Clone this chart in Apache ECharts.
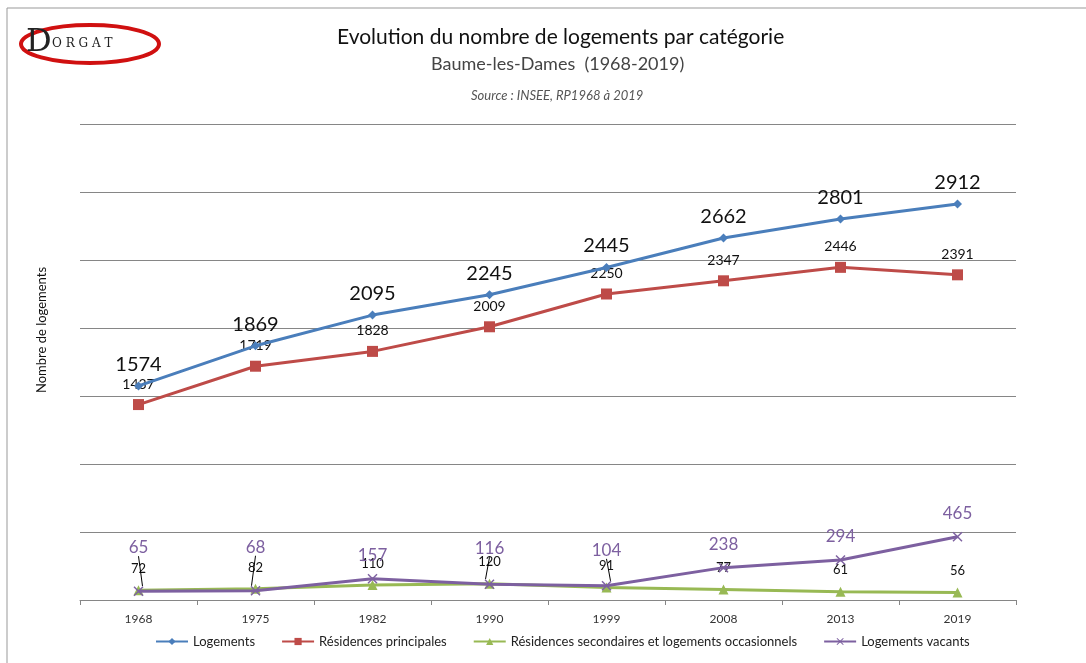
<!DOCTYPE html>
<html>
<head>
<meta charset="utf-8">
<script src="https://cdn.jsdelivr.net/npm/echarts@6/dist/echarts.min.js"></script>
<style>
  html, body { margin: 0; padding: 0; background: #fff; }
  #main { width: 1086px; height: 663px; }
</style>
</head>
<body>
<div id="main"></div>
<script>
// données INSEE, RP1968 à 2019
var annees = ["1968", "1975", "1982", "1990", "1999", "2008", "2013", "2019"];
var logements = [1574, 1869, 2095, 2245, 2445, 2662, 2801, 2912];
var residencesPrincipales = [1437, 1719, 1828, 2009, 2250, 2347, 2446, 2391];
var residencesSecondaires = [72, 82, 110, 120, 91, 77, 61, 56];
var logementsVacants = [65, 68, 157, 116, 104, 238, 294, 465];
// décalage vertical des étiquettes "vacants" (comme dans l'original)
var decalageVacants = [-20, -20, 0, -12, -12, 0, 0, 0];

var myChart = echarts.init(document.getElementById("main"));
var police = "Lato, 'Open Sans', sans-serif";
var croix = "path://M0,1L1,0L5,4L9,0L10,1L6,5L10,9L9,10L5,6L1,10L0,9L4,5Z";

// points "vacants" : trait de rappel seulement pour les étiquettes déplacées
var donneesVacants = logementsVacants.map(function (v, i) {
  return { value: v, labelLine: { show: decalageVacants[i] !== 0 } };
});

var option = {
  backgroundColor: "#fff",
  textStyle: { fontFamily: police },
  title: [
    { text: "Evolution du nombre de logements par catégorie", left: 332, top: 22,
      textStyle: { fontSize: 21, fontWeight: "normal", color: "#111", fontFamily: police } },
    { text: "Baume-les-Dames  (1968-2019)", left: 426, top: 50,
      textStyle: { fontSize: 18, fontWeight: "normal", color: "#444", fontFamily: police } },
    { text: "Source : INSEE, RP1968 à 2019", left: 466, top: 84,
      textStyle: { fontSize: 13, fontWeight: "normal", fontStyle: "italic", color: "#555", fontFamily: police } }
  ],
  graphic: [
    { type: "rect", shape: { x: 7, y: 8, width: 1100, height: 700 }, silent: true,
      style: { fill: "none", stroke: "#999", lineWidth: 1 } },
    { type: "ellipse", shape: { cx: 90, cy: 44, rx: 69, ry: 19 }, silent: true,
      style: { fill: "none", stroke: "#d01010", lineWidth: 4 } },
    { type: "text", left: 26, top: 27, silent: true,
      style: { text: "D", font: "32px 'DejaVu Serif', serif", fill: "#222" } },
    { type: "text", left: 52, top: 38, silent: true,
      style: { text: "O R G A T", font: "12px 'DejaVu Serif', serif", fill: "#222" } },
    { type: "text", x: 42, y: 330, rotation: Math.PI / 2, silent: true,
      style: { text: "Nombre de logements", font: "13px Lato, sans-serif", fill: "#111",
               align: "center", verticalAlign: "middle" } }
  ],
  legend: {
    bottom: 10,
    left: 150,
    itemGap: 26,
    itemWidth: 32,
    itemHeight: 9,
    textStyle: { fontSize: 13, color: "#222", fontFamily: police },
    data: ["Logements", "Résidences principales", "Résidences secondaires et logements occasionnels", "Logements vacants"]
  },
  grid: { left: 80, right: 70, top: 124, bottom: 63 },
  xAxis: {
    type: "category",
    data: annees,
    boundaryGap: true,
    axisLine: { lineStyle: { color: "#868686", width: 1 } },
    axisTick: { show: true, alignWithLabel: false, length: 5, inside: false, lineStyle: { color: "#868686" } },
    axisLabel: { fontSize: 12, color: "#333", margin: 13 }
  },
  yAxis: {
    type: "value",
    min: 0,
    max: 3500,
    interval: 500,
    axisLine: { show: false },
    axisTick: { show: false },
    axisLabel: { show: false },
    splitLine: { lineStyle: { color: "#868686", width: 1 } }
  },
  series: [
    {
      name: "Logements", type: "line", data: logements,
      symbol: "diamond", symbolSize: 9,
      itemStyle: { color: "#4a7ebb" }, lineStyle: { width: 3, color: "#4a7ebb" },
      label: { show: true, position: "top", distance: 7, fontSize: 20, color: "#111" },
      z: 4
    },
    {
      name: "Résidences principales", type: "line", data: residencesPrincipales,
      symbol: "rect", symbolSize: 11,
      itemStyle: { color: "#be4b48" }, lineStyle: { width: 3, color: "#be4b48" },
      label: { show: true, position: "top", distance: 8, fontSize: 14, color: "#111" },
      z: 3
    },
    {
      name: "Résidences secondaires et logements occasionnels", type: "line", data: residencesSecondaires,
      symbol: "triangle", symbolSize: 10,
      itemStyle: { color: "#98b954" }, lineStyle: { width: 3, color: "#98b954" },
      label: { show: true, position: "top", distance: 10, fontSize: 13, color: "#111" },
      z: 2
    },
    {
      name: "Logements vacants", type: "line", data: donneesVacants,
      symbol: croix, symbolSize: 10,
      itemStyle: { color: "#7d60a0" }, lineStyle: { width: 3, color: "#7d60a0" },
      label: { show: true, position: "top", distance: 10, fontSize: 17, color: "#7d60a0" },
      labelLine: { show: true, lineStyle: { color: "#000", width: 1 } },
      labelLayout: function (params) {
        return { dy: decalageVacants[params.dataIndex] };
      },
      z: 5
    }
  ]
};

myChart.setOption(option);
</script>
</body>
</html>
